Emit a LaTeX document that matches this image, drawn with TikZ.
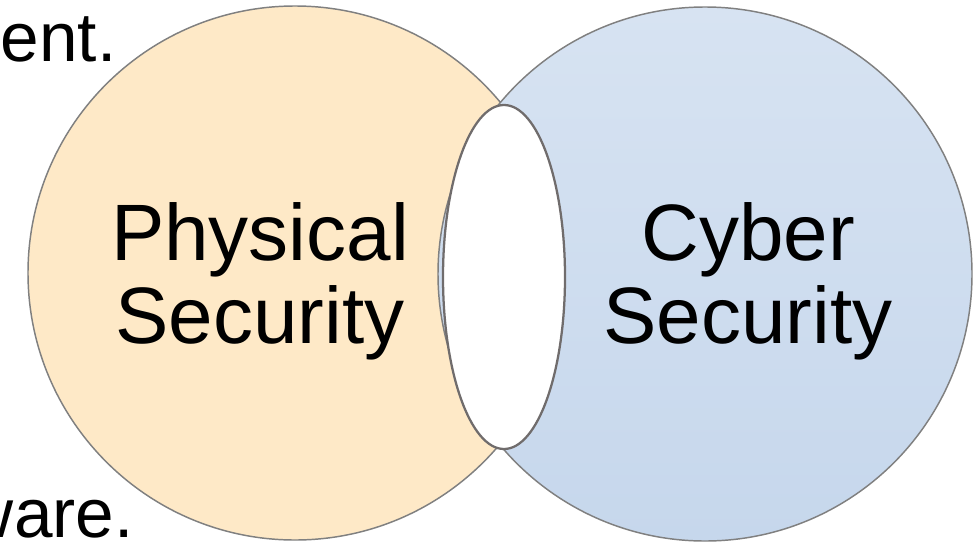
\documentclass[tikz,border=0pt]{standalone}
\usepackage{fontspec}
\setmainfont{Liberation Sans}

\tikzset{every picture/.style={line width=0.75pt}}
\tikzset{
  venn/.style={draw={rgb, 255:red, 128; green, 128; blue, 128 }, line width=1.1pt},
  bigtext/.style={inner sep=0pt, align=center, font=\fontsize{60pt}{62pt}\selectfont},
  sidetext/.style={inner sep=0pt, font=\fontsize{52pt}{60pt}\selectfont}
}

\begin{document}
\begin{tikzpicture}[x=0.75pt,y=0.75pt,yscale=-1,xscale=1]
				%set diagram left start at 0, and has height of 546
				\clip (0,0) rectangle (974,546);
				\fill [white] (0,0) rectangle (974,546);
				%Shape: Circle [id:physical]
				\draw [venn, fill={rgb, 255:red, 254; green, 233; blue, 199 }] (295,273) circle [radius=267];
				%Shape: Circle [id:cyber]
				\draw [venn, top color={rgb, 255:red, 215; green, 227; blue, 242 }, bottom color={rgb, 255:red, 198; green, 215; blue, 236 }] (705,274) circle [radius=267];
				%Shape: Ellipse [id:overlap]
				\draw [draw={rgb, 255:red, 112; green, 108; blue, 108 }, line width=1.7pt, fill=white] (504,277) ellipse [x radius=61, y radius=172];
				% Text Node
				\node (phys) at (260,343) [bigtext, anchor=base] {Physical\\Security};
				% Text Node
				\node (cyber) at (748,343) [bigtext, anchor=base] {Cyber\\Security};
				% Text Node
				\node (topword) at (117,61) [sidetext, anchor=base east] {ent.};
				% Text Node
				\node (botword) at (134,537) [sidetext, anchor=base east] {ware.};
\end{tikzpicture}
\end{document}
